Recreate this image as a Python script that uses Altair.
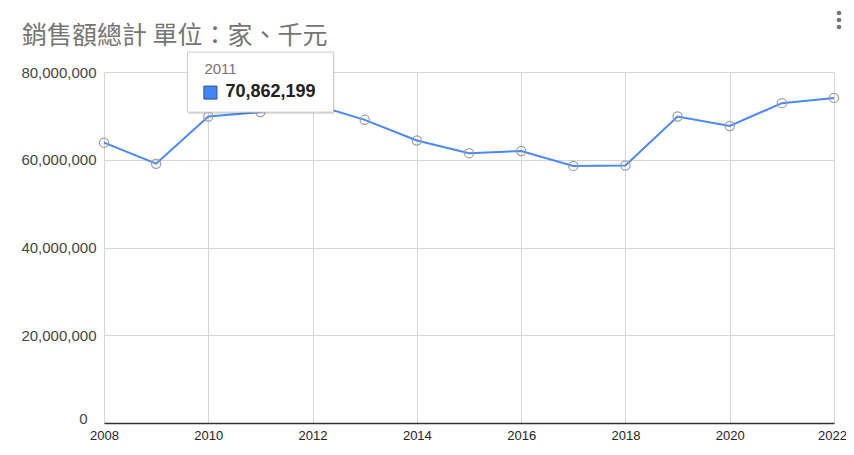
import altair as alt
import pandas as pd

years = [2008, 2009, 2010, 2011, 2012, 2013, 2014, 2015, 2016, 2017, 2018, 2019, 2020, 2021, 2022]
sales = [63900000, 59100000, 69850000, 70862199, 72700000, 69100000, 64400000, 61500000,
         62000000, 58600000, 58700000, 69850000, 67700000, 72900000, 74100000]
x_ticks = [2008, 2010, 2012, 2014, 2016, 2018, 2020, 2022]
y_ticks = [0, 20000000, 40000000, 60000000, 80000000]
title_text = "銷售額總計 單位：家、千元"
tip_year = 2011

df = pd.DataFrame({"year": years, "sales": sales})
tip = df[df["year"] == tip_year].copy()
tip["year_label"] = tip["year"].astype(str)
tip["value_label"] = tip["sales"].map(lambda v: f"{v:,}")

FONT = "Liberation Sans, Arial, sans-serif"

xenc = alt.X("year:Q",
             scale=alt.Scale(domain=[2008, 2022], nice=False, zero=False),
             axis=alt.Axis(values=x_ticks, format="d", title=None, grid=True,
                           gridColor="#d6d6d6", gridWidth=1, domain=True,
                           domainColor="#333333", domainWidth=1.5, ticks=False,
                           labelFont=FONT, labelFontSize=13, labelColor="#222222",
                           labelPadding=6, labelFlush=False,
                           labelOffset={"condition": {"test": "datum.value == 2022", "value": -2}, "value": 0}))
yenc = alt.Y("sales:Q",
             scale=alt.Scale(domain=[0, 80000000], nice=False),
             axis=alt.Axis(values=y_ticks, format=",d", title=None, grid=True,
                           gridColor="#d6d6d6", gridWidth=1, domain=False, ticks=False,
                           labelFont=FONT, labelFontSize=15, labelColor="#444444",
                           labelBaseline={"condition": {"test": "datum.value == 0", "value": "alphabetic"}, "value": "middle"},
                           labelPadding={"condition": {"test": "datum.value == 0", "value": 17}, "value": 8}))

base = alt.Chart(df).encode(x=xenc, y=yenc)
line = base.mark_line(color="#4a89f3", strokeWidth=2)
points = base.mark_point(shape="circle", size=85, filled=False, color="#9e9e9e",
                         strokeWidth=1.2, opacity=1)

tbase = alt.Chart(tip).encode(x=xenc, y=yenc)
shadow = tbase.mark_rect(fill="#000000", opacity=0.12, xOffset=-72, x2Offset=74,
                         yOffset=-58, y2Offset=2).encode(x2="year:Q", y2="sales:Q")
box = tbase.mark_rect(fill="white", stroke="#cccccc", strokeWidth=1, xOffset=-73,
                      x2Offset=73, yOffset=-60, y2Offset=0).encode(x2="year:Q", y2="sales:Q")
t_year = tbase.mark_text(align="left", baseline="alphabetic", dx=-56, dy=-38,
                         font=FONT, fontSize=15, color="#757575").encode(text="year_label:N")
t_val = tbase.mark_text(align="left", baseline="alphabetic", dx=-35, dy=-15,
                        font=FONT, fontSize=18, fontWeight="bold",
                        color="#212121").encode(text="value_label:N")
swatch = tbase.mark_point(shape="square", size=169, filled=True, fill="#4285F4",
                          stroke="#2a4f8f", strokeWidth=1, xOffset=-50,
                          yOffset=-19.5, opacity=1)

title = alt.Chart(pd.DataFrame({"t": [title_text]})).mark_text(
    align="left", baseline="alphabetic", font="Noto Sans CJK TC", fontSize=25,
    color="#757575").encode(text="t:N", x=alt.value(-82), y=alt.value(-28))

menu_dots = [
    alt.Chart(pd.DataFrame({"k": [0]})).mark_circle(size=22, color="#757575", opacity=1)
    .encode(x=alt.value(735), y=alt.value(v))
    for v in (-59, -52, -45)
]

chart = alt.layer(line, points, shadow, box, t_year, t_val, swatch, title, *menu_dots).properties(
    width=730, height=351,
    autosize=alt.AutoSizeParams(type="none"),
    padding={"left": 96, "top": 64, "right": 12, "bottom": 18},
    background="white",
).configure_view(strokeWidth=0)

chart.save("out.html", embed_options={"renderer": "svg", "actions": False})
